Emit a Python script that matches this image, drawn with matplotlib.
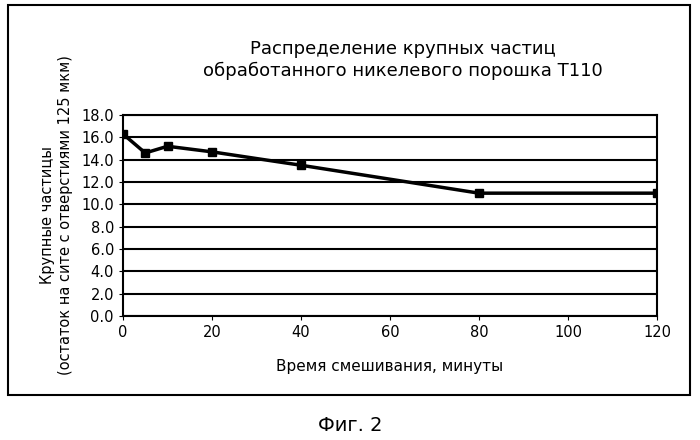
import matplotlib
matplotlib.use('Agg')
import matplotlib.pyplot as plt
from matplotlib.patches import Rectangle

times = [0, 5, 10, 20, 40, 80, 120]
particles = [16.3, 14.6, 15.2, 14.7, 13.5, 11.0, 11.0]
yticks = [0, 2, 4, 6, 8, 10, 12, 14, 16, 18]
xticks = [0, 20, 40, 60, 80, 100, 120]

fig = plt.figure(figsize=(7, 4.4), dpi=100)
fig.patches.append(Rectangle((8/700, 1-395/440), 682/700, 390/440, transform=fig.transFigure,
                             fill=False, edgecolor='black', linewidth=1.5))
ax = fig.add_axes([123/700, 1-316/440, 534/700, 201/440])
ax.plot(times, particles, color='black', linewidth=2.5, marker='s', markersize=6)
ax.set_xlim(0, 120)
ax.set_ylim(0, 18)
ax.set_xticks(xticks)
ax.set_yticks(yticks)
ax.set_yticklabels(['%.1f' % v for v in yticks])
ax.grid(axis='y', color='black', linewidth=1.5)
ax.tick_params(labelsize=10.5, length=3)
for s in ax.spines.values():
    s.set_linewidth(1.5)
ax.set_xlabel('Время смешивания, минуты', fontsize=11, labelpad=14)
ax.set_ylabel('Крупные частицы\n(остаток на сите с отверстиями 125 мкм)', fontsize=10.5, labelpad=6)
fig.text(0.575, 1-60/440, 'Распределение крупных частиц\nобработанного никелевого порошка T110',
         ha='center', va='center', fontsize=13)
fig.text(0.5, 1-425/440, 'Фиг. 2', ha='center', va='center', fontsize=14)
fig.savefig('out.png')
